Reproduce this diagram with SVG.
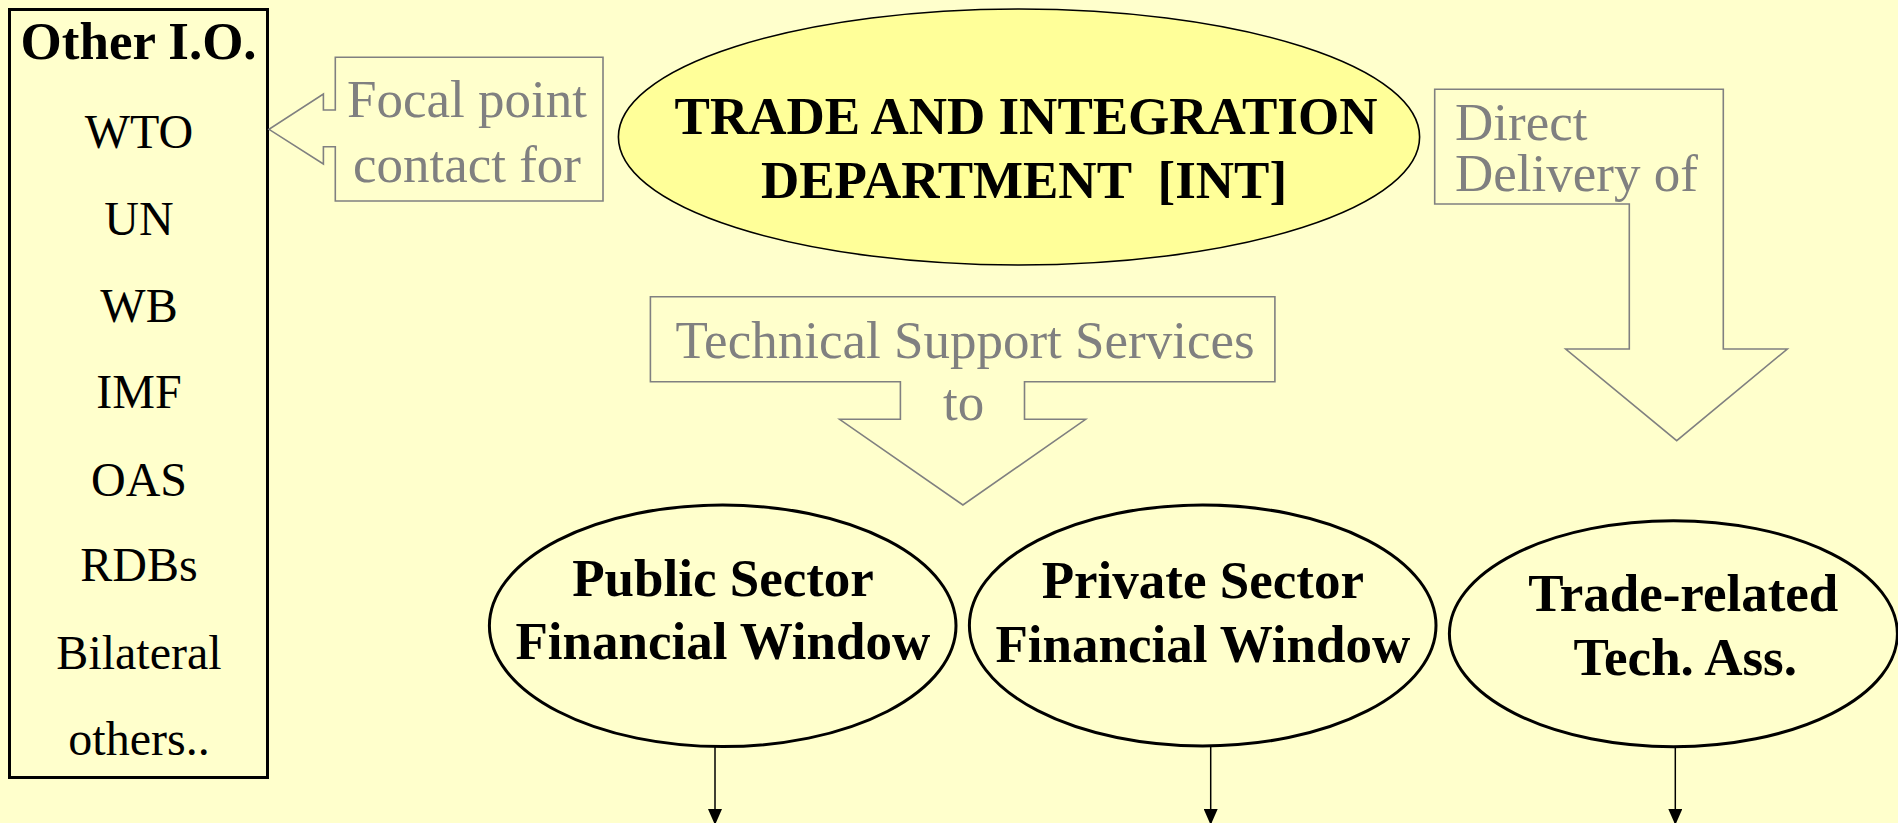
<svg xmlns="http://www.w3.org/2000/svg" width="1898" height="823" viewBox="0 0 1898 823">
<style>
.bg{fill:#FFFFCC}
.lst{font-family:"Liberation Serif","Times New Roman",serif;font-size:48px;fill:#000;text-anchor:middle}
.bold{font-family:"Liberation Serif","Times New Roman",serif;font-size:53px;font-weight:bold;fill:#000;text-anchor:middle}
.gray{font-family:"Liberation Serif","Times New Roman",serif;font-size:53px;fill:#808080}
.callout{fill:#FFFFCC;stroke:#808080;stroke-width:1.6}
.node{fill:#FFFFCC;stroke:#000;stroke-width:3}
.conn{stroke:#000;stroke-width:1.5;fill:none}
</style>
<defs>
<marker id="ah" viewBox="0 0 16 14" refX="16" refY="7" markerWidth="16" markerHeight="14" markerUnits="userSpaceOnUse" orient="auto">
<path d="M0,0 L16,7 L0,14 Z" fill="#000"/>
</marker>
</defs>
<rect class="bg" x="0" y="0" width="1898" height="823"/>

<g id="other-io">
<rect x="9.5" y="9.5" width="258" height="768" fill="none" stroke="#000" stroke-width="3"/>
<text class="bold" x="138.6" y="59">Other I.O.</text>
<text class="lst" x="139" y="148">WTO</text>
<text class="lst" x="139" y="235">UN</text>
<text class="lst" x="139" y="321.5">WB</text>
<text class="lst" x="139" y="408">IMF</text>
<text class="lst" x="139" y="496">OAS</text>
<text class="lst" x="139" y="581">RDBs</text>
<text class="lst" x="139" y="668.5">Bilateral</text>
<text class="lst" x="139" y="755">others..</text>
</g>

<g id="focal-callout">
<path class="callout" d="M335.3,57.3 L603,57.3 L603,201 L335.3,201 L335.3,146.7 L323.4,146.7 L323.4,164 L269,129.3 L323.4,94 L323.4,110 L335.3,110 Z"/>
<text class="gray" x="467" y="117.3" text-anchor="middle">Focal point</text>
<text class="gray" x="467" y="181.7" text-anchor="middle">contact for</text>
</g>

<g id="int">
<ellipse cx="1019" cy="137" rx="400.6" ry="128" fill="#FFFF99" stroke="#000" stroke-width="1.6"/>
<text class="bold" x="1026" y="133.5">TRADE AND INTEGRATION</text>
<text class="bold" x="1024" y="198" xml:space="preserve">DEPARTMENT  [INT]</text>
</g>

<g id="tech-support-callout">
<path class="callout" d="M650.4,296.7 L1274.9,296.7 L1274.9,381.7 L1024.5,381.7 L1024.5,419.3 L1085.6,419.3 L962.9,505 L839.6,419.3 L900.4,419.3 L900.4,381.7 L650.4,381.7 Z"/>
<text class="gray" x="965" y="358.3" text-anchor="middle">Technical Support Services</text>
<text class="gray" x="963.7" y="420" text-anchor="middle">to</text>
</g>

<g id="direct-callout">
<path class="callout" d="M1434.7,89.3 L1723.3,89.3 L1723.3,349 L1787.3,349 L1676.7,440.7 L1565.7,349 L1629.3,349 L1629.3,204 L1434.7,204 Z"/>
<text class="gray" x="1455" y="140">Direct</text>
<text class="gray" x="1455" y="191">Delivery of</text>
</g>

<g id="public">
<ellipse class="node" cx="722.7" cy="625.8" rx="233.3" ry="120.8"/>
<text class="bold" x="723" y="595.7">Public Sector</text>
<text class="bold" x="722.8" y="659.3">Financial Window</text>
</g>

<g id="private">
<ellipse class="node" cx="1202.7" cy="625.5" rx="233.3" ry="120.5"/>
<text class="bold" x="1202.8" y="598.3">Private Sector</text>
<text class="bold" x="1202.8" y="662.3">Financial Window</text>
</g>

<g id="trta">
<ellipse class="node" cx="1673.4" cy="633.7" rx="224" ry="113"/>
<text class="bold" x="1683.3" y="611">Trade-related</text>
<text class="bold" x="1685.3" y="675">Tech. Ass.</text>
</g>

<g id="connectors">
<line class="conn" x1="715" y1="746.7" x2="715" y2="825" marker-end="url(#ah)"/>
<line class="conn" x1="1210.7" y1="746" x2="1210.7" y2="825" marker-end="url(#ah)"/>
<line class="conn" x1="1675.3" y1="746.7" x2="1675.3" y2="825" marker-end="url(#ah)"/>
</g>
</svg>
